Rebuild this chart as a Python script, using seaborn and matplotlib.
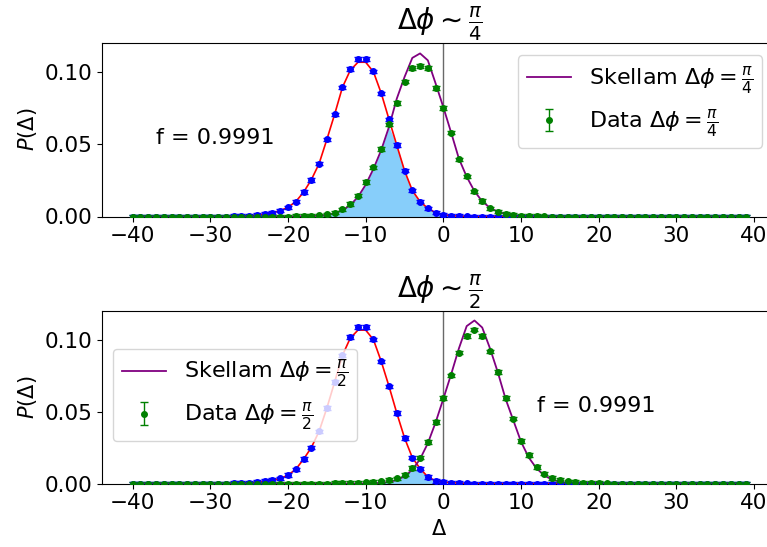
import matplotlib
matplotlib.use("Agg")
import matplotlib.pyplot as plt
import seaborn as sns
import pandas as pd
import numpy as np

# ---------------- data ----------------
delta = list(range(-40, 40))

# top panel (delta phi ~ pi/4)
top_blue = [0.0] * 13 + [0.0002, 0.0003, 0.0006, 0.0010, 0.0017, 0.0026, 0.0040, 0.0064, 0.0103,
                         0.0168, 0.0254, 0.0366, 0.0533, 0.0707, 0.0893, 0.1020, 0.1090, 0.1090,
                         0.1004, 0.0852, 0.0672, 0.0493, 0.0317, 0.0180, 0.0103, 0.0057, 0.0026,
                         0.0013, 0.0006, 0.0003, 0.0001] + [0.0] * 36
top_red = [0.0] * 13 + [0.0002, 0.0003, 0.0006, 0.0010, 0.0017, 0.0026, 0.0040, 0.0064, 0.0103,
                        0.0168, 0.0254, 0.0366, 0.0533, 0.0707, 0.0893, 0.1010, 0.1067, 0.1067,
                        0.1000, 0.0852, 0.0672, 0.0493, 0.0317, 0.0180, 0.0103, 0.0057, 0.0026,
                        0.0013, 0.0006, 0.0003, 0.0001] + [0.0] * 36
top_green = [0.0] * 21 + [0.0002, 0.0003, 0.0005, 0.0008, 0.0014, 0.0026, 0.0050, 0.0085, 0.0145,
                          0.0238, 0.0340, 0.0468, 0.0637, 0.0786, 0.0932, 0.1027, 0.1041, 0.1027,
                          0.0890, 0.0749, 0.0580, 0.0396, 0.0277, 0.0173, 0.0108, 0.0057, 0.0034,
                          0.0020, 0.0011, 0.0006, 0.0003, 0.0002, 0.0001] + [0.0] * 26
top_purple = [0.0] * 21 + [0.0001, 0.0002, 0.0003, 0.0005, 0.0011, 0.0022, 0.0043, 0.0078, 0.0135,
                           0.0220, 0.0330, 0.0460, 0.0620, 0.0815, 0.0965, 0.1097, 0.1128, 0.1080,
                           0.0920, 0.0755, 0.0580, 0.0400, 0.0275, 0.0175, 0.0105, 0.0060, 0.0033,
                           0.0018, 0.0009, 0.0005, 0.0002, 0.0001, 0.0000] + [0.0] * 26

# bottom panel (delta phi ~ pi/2)
bot_blue = [0.0] * 13 + [0.0002, 0.0003, 0.0006, 0.0010, 0.0016, 0.0023, 0.0035, 0.0058, 0.0099,
                         0.0169, 0.0250, 0.0363, 0.0525, 0.0706, 0.0891, 0.1018, 0.1088, 0.1088,
                         0.1002, 0.0849, 0.0676, 0.0490, 0.0317, 0.0180, 0.0104, 0.0046, 0.0018,
                         0.0010, 0.0006, 0.0003, 0.0001] + [0.0] * 36
bot_red = [0.0] * 13 + [0.0002, 0.0003, 0.0006, 0.0010, 0.0016, 0.0023, 0.0035, 0.0058, 0.0099,
                        0.0169, 0.0250, 0.0363, 0.0525, 0.0706, 0.0891, 0.1010, 0.1067, 0.1067,
                        0.1000, 0.0849, 0.0676, 0.0490, 0.0317, 0.0180, 0.0104, 0.0046, 0.0018,
                        0.0010, 0.0006, 0.0003, 0.0001] + [0.0] * 36
bot_green = [0.0] * 26 + [0.0002, 0.0003, 0.0004, 0.0006, 0.0008, 0.0010, 0.0015, 0.0023, 0.0035,
                          0.0062, 0.0108, 0.0180, 0.0289, 0.0428, 0.0594, 0.0752, 0.0910, 0.1025,
                          0.1071, 0.1025, 0.0919, 0.0775, 0.0594, 0.0451, 0.0296, 0.0197, 0.0115,
                          0.0069, 0.0039, 0.0023, 0.0014, 0.0009, 0.0005, 0.0003, 0.0002, 0.0001] + [0.0] * 18
bot_purple = [0.0] * 26 + [0.0, 0.0, 0.0, 0.0, 0.0001, 0.0002, 0.0005, 0.0011, 0.0024,
                           0.0050, 0.0095, 0.0170, 0.0280, 0.0425, 0.0590, 0.0760, 0.0940, 0.1095,
                           0.1134, 0.1085, 0.0940, 0.0775, 0.0590, 0.0440, 0.0290, 0.0180, 0.0105,
                           0.0055, 0.0027, 0.0012, 0.0005, 0.0002, 0.0001, 0.0, 0.0, 0.0] + [0.0] * 18

data_err = 0.0012
f_value = "f = 0.9991"

panels = [
    dict(blue=top_blue, red=top_red, green=top_green, purple=top_purple,
         frac=r"\frac{\pi}{4}", text_x=-37, legend=dict(loc="upper left", bbox_to_anchor=(0.616, 0.93))),
    dict(blue=bot_blue, red=bot_red, green=bot_green, purple=bot_purple,
         frac=r"\frac{\pi}{2}", text_x=12, legend=dict(loc="center left", bbox_to_anchor=(0.016, 0.513))),
]

# ---------------- figure ----------------
plt.rcParams["font.size"] = 15
plt.rcParams["font.family"] = ["DejaVu Sans"]
fig = plt.figure(figsize=(7.67, 5.47), dpi=100)
ax_top = fig.add_axes([102 / 767, (547 - 216.5) / 547, 675 / 767, 173.5 / 547])
ax_bot = fig.add_axes([102 / 767, (547 - 483.5) / 547, 675 / 767, 172.5 / 547])

for ax, p in zip([ax_top, ax_bot], panels):
    df = pd.DataFrame({"delta": delta, "blue": p["blue"], "red": p["red"],
                       "green": p["green"], "purple": p["purple"]})
    overlap = np.minimum(df["red"].values, df["purple"].values)
    ax.fill_between(df["delta"], 0, overlap, color="lightskyblue", lw=0, zorder=1)
    ax.axvline(0, color="dimgray", lw=1.0, zorder=1.5)
    sns.lineplot(data=df, x="delta", y="red", color="red", lw=1.2, ax=ax, zorder=2)
    ax.errorbar(df["delta"], df["blue"], yerr=data_err, fmt="o", color="blue",
                ms=4, capsize=3, elinewidth=1, zorder=3)
    sns.lineplot(data=df, x="delta", y="purple", color="purple", lw=1.3, ax=ax, zorder=2)
    line_handle = ax.get_lines()[-1]
    eb = ax.errorbar(df["delta"], df["green"], yerr=data_err, fmt="o", color="green",
                     ms=4, capsize=3, elinewidth=1, zorder=3)
    line_handle.set_label(r"Skellam $\Delta\phi = %s$" % p["frac"])
    eb.set_label(r"Data $\Delta\phi = %s$" % p["frac"])
    leg = ax.legend(handles=[line_handle, eb], borderaxespad=0, framealpha=0.8,
                    fontsize=16, **p["legend"])
    leg.set_zorder(10)
    ax.text(p["text_x"], 0.05, f_value, fontsize=16)
    ax.set_title(r"$\Delta\phi \sim %s$" % p["frac"], fontsize=20)
    ax.set_ylim(0, 0.12)
    ax.set_xlim(-43.95, 42.95)
    ax.set_xticks(range(-40, 41, 10))
    ax.set_yticks([0.0, 0.05, 0.10])
    ax.set_yticklabels(["0.00", "0.05", "0.10"])
    ax.set_ylabel(r"$P(\Delta)$", fontsize=15)
    ax.set_xlabel("")
    ax.tick_params(labelsize=15.5)

ax_bot.set_xlabel(r"$\Delta$", fontsize=15)

fig.savefig("out.png", dpi=100)
